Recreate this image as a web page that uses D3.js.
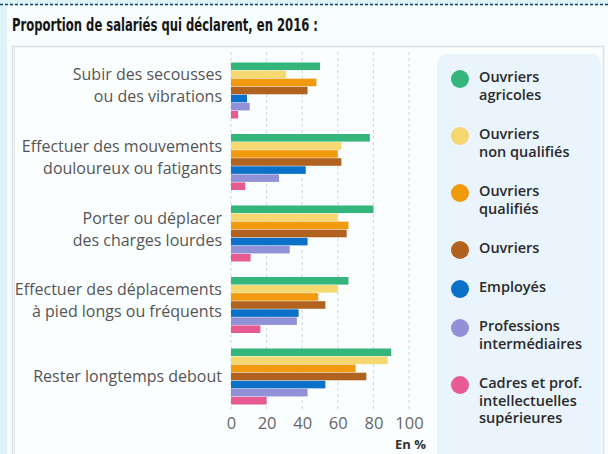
<!DOCTYPE html>
<html><head><meta charset="utf-8">
<script src="https://cdn.jsdelivr.net/npm/d3@7/dist/d3.min.js"></script>
<style>
html,body{margin:0;padding:0;background:#dcf3f7;}
svg{display:block;}
</style></head>
<body>
<svg id="chart" width="608" height="454"></svg>
<script>
// ---- data ----
const categories = [
  "Subir des secousses\nou des vibrations",
  "Effectuer des mouvements\ndouloureux ou fatigants",
  "Porter ou déplacer\ndes charges lourdes",
  "Effectuer des déplacements\nà pied longs ou fréquents",
  "Rester longtemps debout"
];
const seriesNames = [
  "Ouvriers\nagricoles",
  "Ouvriers\nnon qualifiés",
  "Ouvriers\nqualifiés",
  "Ouvriers",
  "Employés",
  "Professions\nintermédiaires",
  "Cadres et prof.\nintellectuelles\nsupérieures"
];
const ouvriersAgricoles     = [50, 78, 80, 66, 90];
const ouvriersNonQualifies  = [31, 62, 60, 60, 88];
const ouvriersQualifies     = [48, 60, 66, 49, 70];
const ouvriers              = [43, 62, 65, 53, 76];
const employes              = [9, 42, 43, 38, 53];
const professionsInter      = [10.5, 27, 33, 37, 43];
const cadres                = [4, 8, 11, 16.5, 20];
const tickValues = [0, 20, 40, 60, 80, 100];
const title = "Proportion de salariés qui déclarent, en 2016 :";
const unitLabel = "En %";

const seriesValues = [ouvriersAgricoles, ouvriersNonQualifies, ouvriersQualifies, ouvriers, employes, professionsInter, cadres];
const palette = ["#33b57b", "#f5d86f", "#f29a0e", "#b2621f", "#0b70c8", "#9191d8", "#e75a92"];

// ---- layout ----
const svg = d3.select("#chart");
const W = 608, H = 454;

svg.append("rect").attr("x", 0).attr("y", 0).attr("width", W).attr("height", H).attr("fill", "#dcf3f7");
svg.append("rect").attr("x", 7).attr("y", 6).attr("width", W - 7).attr("height", H - 6).attr("fill", "#f7fcfd");
svg.append("line").attr("x1", 0).attr("x2", W).attr("y1", 4.5).attr("y2", 4.5)
  .attr("stroke", "#23406a").attr("stroke-width", 1.3).attr("stroke-dasharray", "3,2");
svg.append("rect").attr("x", 12.5).attr("y", 46.5).attr("width", 591).attr("height", H)
  .attr("fill", "#fbfeff").attr("stroke", "#d9dee7").attr("stroke-width", 1.5);
svg.append("line").attr("x1", 14.5).attr("x2", 14.5).attr("y1", 47).attr("y2", H)
  .attr("stroke", "#e4e8ee").attr("stroke-width", 1);

// title (condensed bold)
svg.append("text").attr("x", 12).attr("y", 31)
  .attr("font-family", "'DejaVu Sans Condensed','DejaVu Sans',sans-serif")
  .style("font-stretch", "condensed")
  .attr("font-weight", "bold").attr("font-size", 18).attr("fill", "#161616")
  .attr("textLength", 306).attr("lengthAdjust", "spacingAndGlyphs")
  .text(title);

// scales
const x = d3.scaleLinear().domain([0, 100]).range([231, 409]);
const y = d3.scaleBand().domain(categories).range([62.5, 404.5]).paddingInner(0.2168).paddingOuter(0);
const ySub = d3.scaleBand().domain(d3.range(seriesNames.length)).range([0, y.bandwidth()]).paddingInner(0.06);

// gridlines
svg.append("g").selectAll("line").data(tickValues).join("line")
  .attr("x1", d => x(d)).attr("x2", d => x(d))
  .attr("y1", 52).attr("y2", 409)
  .attr("stroke", "#cdd4e3").attr("stroke-width", 1).attr("stroke-dasharray", "3,3");

// bars
const groups = svg.append("g").selectAll("g").data(categories).join("g")
  .attr("transform", d => `translate(0,${y(d)})`);
groups.selectAll("rect").data((c, ci) => seriesValues.map((vals, si) => ({si, v: vals[ci]})))
  .join("rect")
  .attr("x", x(0))
  .attr("y", d => ySub(d.si))
  .attr("width", d => x(d.v) - x(0))
  .attr("height", ySub.bandwidth())
  .attr("fill", d => palette[d.si]);

// category labels
const labFont = "'Open Sans', Lato, sans-serif";
categories.forEach(c => {
  const lines = c.split("\n");
  const cy = y(c) + y.bandwidth() / 2 - (lines.length > 1 ? 4.5 : 0);
  const t = svg.append("text").attr("text-anchor", "end")
    .attr("font-family", labFont).attr("font-size", 16).attr("fill", "#555");
  lines.forEach((ln, i) => {
    t.append("tspan").attr("x", 222)
      .attr("y", cy + (i - (lines.length - 1) / 2) * 22 + 5.5)
      .text(ln);
  });
});

// x axis
const xAxis = d3.axisBottom(x).tickValues(tickValues).tickSize(0).tickPadding(0);
const ax = svg.append("g").attr("transform", "translate(0,413)").call(xAxis);
ax.select(".domain").remove();
ax.selectAll("text").attr("font-family", labFont).attr("font-size", 16.5).attr("fill", "#666").attr("dy", "0.95em");
svg.append("text").attr("x", 426).attr("y", 449).attr("text-anchor", "end")
  .attr("font-family", labFont).attr("font-weight", "bold").attr("font-size", 13).attr("fill", "#333")
  .text(unitLabel);

// legend
svg.append("rect").attr("x", 437).attr("y", 54).attr("width", 164).attr("height", 420).attr("rx", 11)
  .attr("fill", "#eaf4fd");
let base = 82;
seriesNames.forEach((name, i) => {
  const lines = name.split("\n");
  svg.append("circle").attr("cx", 460).attr("cy", base - 3).attr("r", 9).attr("fill", palette[i]);
  const t = svg.append("text").attr("font-family", labFont).attr("font-weight", 600)
    .attr("font-size", 14.5).attr("fill", "#2a2a2a");
  lines.forEach((ln, j) => {
    t.append("tspan").attr("x", 479).attr("y", base + j * 17.5).text(ln);
  });
  base += lines.length * 18 + 21;
});
</script>
</body></html>
